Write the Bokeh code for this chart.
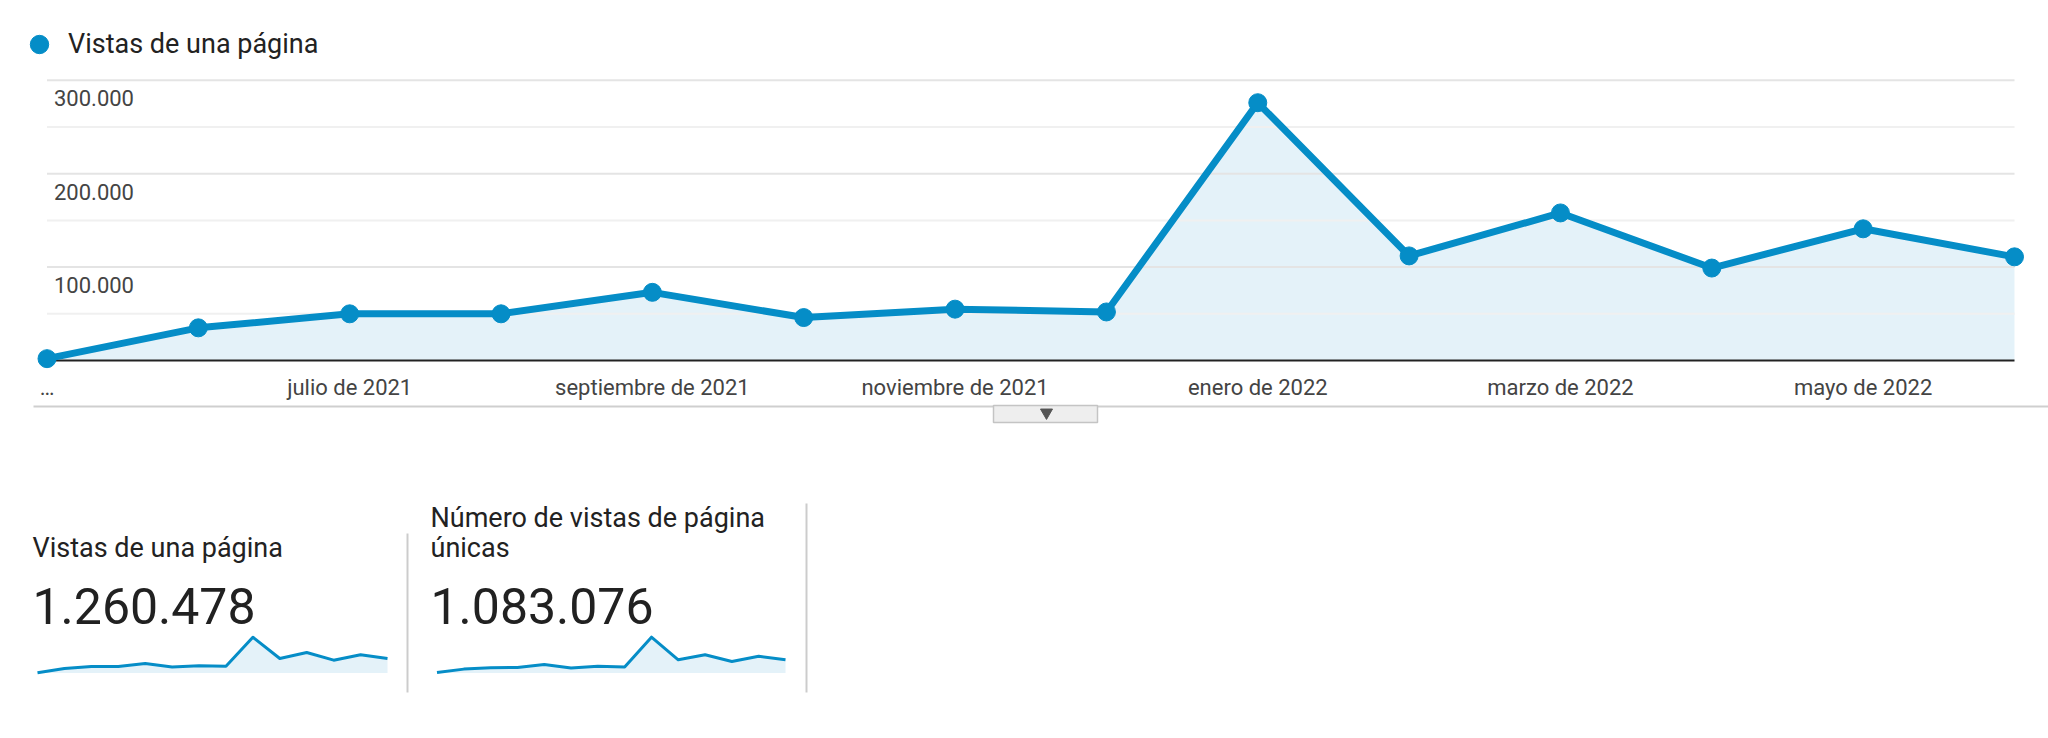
from bokeh.plotting import figure
from bokeh.models import Range1d, FixedTicker, Legend, LegendItem, ColumnDataSource
from bokeh.layouts import column
from bokeh.embed import file_html
from bokeh.resources import INLINE
from bokeh.core.properties import value

# ---------------- data ----------------
months = ["mayo de 2021", "junio de 2021", "julio de 2021", "agosto de 2021",
          "septiembre de 2021", "octubre de 2021", "noviembre de 2021",
          "diciembre de 2021", "enero de 2022", "febrero de 2022", "marzo de 2022",
          "abril de 2022", "mayo de 2022", "junio de 2022"]
pageviews = [2000, 35000, 50000, 50000, 73000, 46000, 55000, 52000,
             276000, 112000, 158000, 99000, 141000, 111000]
unique_pageviews = [3000, 28000, 38000, 40000, 62000, 36000, 49000, 43000,
                    258000, 95000, 132000, 83000, 121000, 95000]
tick_positions = [0, 2, 4, 6, 8, 10, 12]
tick_labels = ["…", "julio de 2021", "septiembre de 2021", "noviembre de 2021",
               "enero de 2022", "marzo de 2022", "mayo de 2022"]
y_major = [100000, 200000, 300000]
y_major_labels = ["100.000", "200.000", "300.000"]
y_minor = [50000, 150000, 250000]
series_name = "Vistas de una página"
kpi_title_lines = [["Vistas de una página"], ["Número de vistas de página", "únicas"]]
kpi_totals = ["1.260.478", "1.083.076"]

# ---------------- styles ----------------
BLUE = "#058DC7"
FILL = "#E4F2F9"
FONT = "Roboto"
W = 2048
MAIN_H = 402
BOT_H = 336

# ---------------- main chart ----------------
n = len(months)
xs = list(range(n))
X0_PX, XN_PX = 46.5, 2014.0          # pixel of first/last month
ux = (XN_PX - X0_PX) / (n - 1)
Y0_PX, Y300_PX = 361.0, 80.0          # pixel of 0 and 300.000
uy = (Y0_PX - Y300_PX) / 300000
FRAME_BOTTOM = 372.0

p = figure(width=W, height=MAIN_H, output_backend="svg", toolbar_location=None,
           x_range=Range1d(-X0_PX / ux, (n - 1) + (W - XN_PX) / ux),
           y_range=Range1d(-(FRAME_BOTTOM - Y0_PX) / uy, Y0_PX / uy),
           y_axis_location=None, min_border_left=0, min_border_right=0,
           min_border_top=0, min_border_bottom=int(MAIN_H - FRAME_BOTTOM))
p.outline_line_color = None
p.grid.visible = False
p.background_fill_color = "white"
p.border_fill_color = "white"

src = ColumnDataSource(dict(x=xs, y=pageviews, month=months))
p.varea(x="x", y1=0, y2="y", source=src, fill_color=FILL, fill_alpha=1)

p.segment(x0=[0] * len(y_minor), x1=[n - 1] * len(y_minor), y0=y_minor, y1=y_minor,
          line_color="#f0f0f0", line_width=2)
p.segment(x0=[0] * len(y_major), x1=[n - 1] * len(y_major), y0=y_major, y1=y_major,
          line_color="#e4e4e4", line_width=2)
p.segment(x0=[0], x1=[n - 1], y0=[0], y1=[0], line_color="#222222", line_width=2)

p.text(x=[0] * len(y_major), y=y_major, text=y_major_labels, x_offset=7, y_offset=10,
       text_baseline="top", text_align="left", text_font=value(FONT),
       text_font_size="22px", text_color="#444444")

p.line(x="x", y="y", source=src, line_color=BLUE, line_width=7, line_join="round")
pts = p.scatter(x="x", y="y", source=src, size=18, fill_color=BLUE, line_color=BLUE)

legend = Legend(items=[LegendItem(label=series_name, renderers=[pts])],
                location=(16, 304), glyph_width=46, glyph_height=46,
                label_standoff=6, padding=0, margin=0, spacing=0,
                border_line_alpha=0, background_fill_alpha=0,
                label_text_font=FONT, label_text_font_size="27px",
                label_text_color="#222222")
p.add_layout(legend)

p.xaxis.ticker = FixedTicker(ticks=tick_positions)
p.xaxis.major_label_overrides = {t: l for t, l in zip(tick_positions, tick_labels)}
p.xaxis.axis_line_color = None
p.xaxis.major_tick_line_color = None
p.xaxis.minor_tick_line_color = None
p.xaxis.major_tick_out = 0
p.xaxis.major_label_standoff = 3
p.xaxis.major_label_text_font = FONT
p.xaxis.major_label_text_font_size = "22px"
p.xaxis.major_label_text_color = "#444444"

# ---------------- bottom (divider + KPI cards) ----------------
TOP_REF = MAIN_H
b = figure(width=W, height=BOT_H, output_backend="svg", toolbar_location=None,
           x_range=Range1d(0, W), y_range=Range1d(TOP_REF + BOT_H, TOP_REF),
           x_axis_location=None, y_axis_location=None, min_border=0)
b.outline_line_color = None
b.grid.visible = False
b.background_fill_color = "white"
b.border_fill_color = "white"

# divider line + tab
b.segment(x0=[33], x1=[2048], y0=[406], y1=[406], line_color="#cfcfcf", line_width=2)
b.quad(left=[993], right=[1097], top=[405], bottom=[422],
       fill_color="#eeeeee", line_color="#c4c4c4", line_width=1.5)
b.scatter(x=[1046], y=[412], marker="inverted_triangle", size=12,
          fill_color="#555555", line_color="#555555")

# separators
b.segment(x0=[407, 806], x1=[407, 806], y0=[533, 503], y1=[692, 692],
          line_color="#cccccc", line_width=2)

# KPI texts
kpi_x = [32, 430]
for k in range(2):
    lines = kpi_title_lines[k]
    base = 547 - 30 * (len(lines) - 1)
    b.text(x=[kpi_x[k]] * len(lines), y=[base + 30 * i for i in range(len(lines))],
           text=lines, text_baseline="alphabetic", text_font=value(FONT),
           text_font_size="27px", text_color="#222222")
    b.text(x=[kpi_x[k]], y=[605], text=[kpi_totals[k]], text_baseline="alphabetic",
           text_font=value(FONT), text_font_size="50px", text_color="#212121")

# sparklines
spark_series = [pageviews, unique_pageviews]
spark_px = [(37.0, 387.0), (436.5, 785.0)]
SB, ST = 672.5, 636.7
for k in range(2):
    ser = spark_series[k]
    xl, xr = spark_px[k]
    sx = (xr - xl) / (n - 1)
    sy = (SB - ST) / max(ser)
    b.extra_x_ranges[f"sx{k}"] = Range1d(-xl / sx, (n - 1) + (W - xr) / sx)
    b.extra_y_ranges[f"sy{k}"] = Range1d(-(TOP_REF + BOT_H - SB) / sy, (SB - TOP_REF) / sy)
    s_src = ColumnDataSource(dict(x=xs, y=ser))
    b.varea(x="x", y1=0, y2="y", source=s_src, fill_color=FILL,
            x_range_name=f"sx{k}", y_range_name=f"sy{k}")
    b.line(x="x", y="y", source=s_src, line_color=BLUE, line_width=3,
           line_join="round", x_range_name=f"sx{k}", y_range_name=f"sy{k}")

layout = column(p, b, spacing=0)
open("out.html", "w").write(file_html(layout, INLINE))
